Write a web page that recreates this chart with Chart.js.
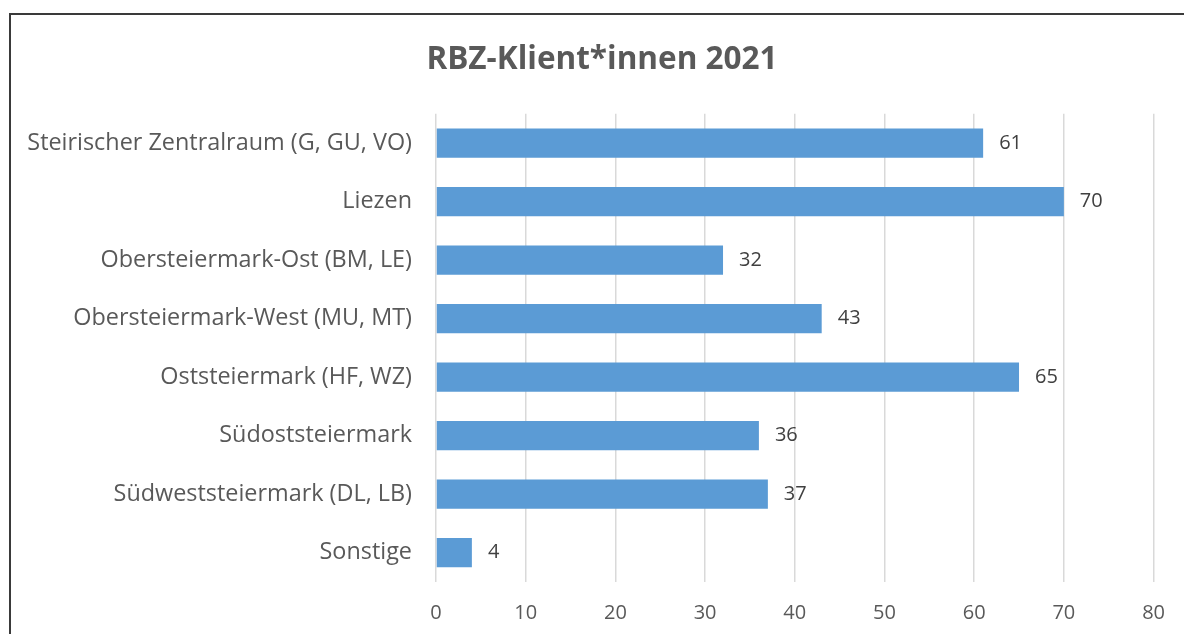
<!DOCTYPE html>
<html>
<head>
<meta charset="utf-8">
<script src="https://cdn.jsdelivr.net/npm/chart.js@4"></script>
<style>
  html, body { margin: 0; padding: 0; background: #fff; overflow: hidden; }
  #frame {
    position: absolute; left: 9px; top: 13px; width: 1300px; height: 800px;
    border-left: 2px solid #3a3a3a; border-top: 2px solid #3a3a3a;
  }
  #wrap { position: absolute; left: 0; top: 0; width: 1184px; height: 634px; }
</style>
</head>
<body>
<div id="frame"></div>
<div id="wrap"><canvas id="chartBar"></canvas></div>
<script>
const categories = [
  "Steirischer Zentralraum (G, GU, VO)",
  "Liezen",
  "Obersteiermark-Ost (BM, LE)",
  "Obersteiermark-West (MU, MT)",
  "Oststeiermark (HF, WZ)",
  "Südoststeiermark",
  "Südweststeiermark (DL, LB)",
  "Sonstige"
];
const clients = [61, 70, 32, 43, 65, 36, 37, 4];
const xTicks = [0, 10, 20, 30, 40, 50, 60, 70, 80];

const FONT = "'Open Sans', sans-serif";

// draws the value next to each bar end
const valueLabels = {
  id: "valueLabels",
  afterDatasetsDraw(chart) {
    const ctx = chart.ctx;
    ctx.save();
    ctx.font = "20px " + FONT;
    ctx.fillStyle = "#404040";
    ctx.textAlign = "left";
    ctx.textBaseline = "middle";
    chart.getDatasetMeta(0).data.forEach((bar, i) => {
      ctx.fillText(String(clients[i]), bar.x + 16, bar.y);
    });
    ctx.restore();
  }
};

// left padding only shifts the title; let the long category labels use it
const widenLabelArea = {
  id: "widenLabelArea",
  afterLayout(chart) {
    chart.scales.y.left = 0;
  }
};

const dataBar = {
  labels: categories,
  datasets: [
    {
      label: "RBZ-Klient*innen 2021",
      data: clients,
      backgroundColor: "#5b9bd5",
      borderWidth: 0,
      categoryPercentage: 1,
      barPercentage: 0.5,
    },
  ],
};

const configBar = {
  type: "bar",
  data: dataBar,
  options: {
    indexAxis: "y",
    responsive: false,
    animation: false,
    layout: { autoPadding: false, padding: { top: 14, right: 28.5, bottom: 9, left: 48.5 } },
    plugins: {
      legend: { display: false },
      tooltip: { enabled: false },
      title: {
        display: true,
        text: "RBZ-Klient*innen 2021",
        color: "#595959",
        font: { family: FONT, size: 31.5, weight: "bold" },
        padding: { top: 27, bottom: 35 },
      },
    },
    scales: {
      x: {
        min: 0,
        max: 80,
        afterBuildTicks: (axis) => { axis.ticks = xTicks.map(v => ({ value: v })); },
        afterFit: (axis) => { axis.height = 43; },
        grid: { color: "#d9d9d9", lineWidth: 1.5, drawTicks: false },
        border: { display: false },
        ticks: { color: "#595959", font: { family: FONT, size: 20 }, padding: 19 },
      },
      y: {
        afterFit: (axis) => { axis.width = 387.5; },
        grid: { display: false, drawTicks: false },
        border: { display: false },
        ticks: { color: "#595959", font: { family: FONT, size: 23.4 }, padding: 24 },
      },
    },
  },
  plugins: [valueLabels, widenLabelArea],
};

const canvas = document.getElementById("chartBar");
canvas.width = 1184;
canvas.height = 634;
const chartBar = new Chart(canvas, configBar);
</script>
</body>
</html>
